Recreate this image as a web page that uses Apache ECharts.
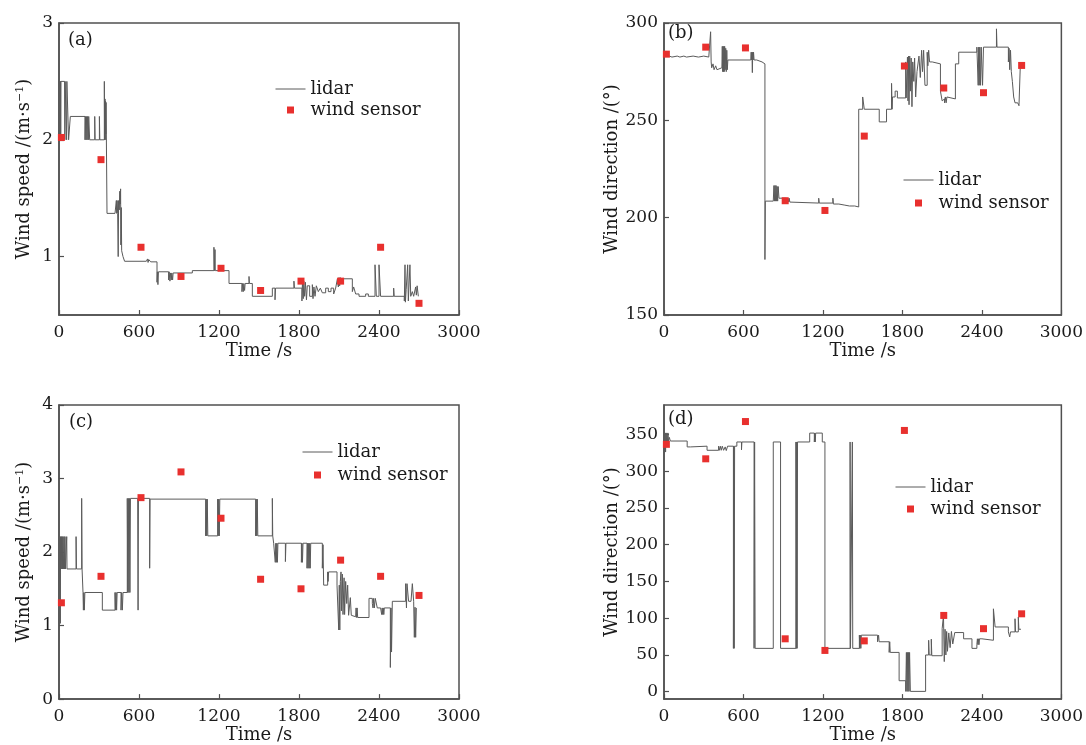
<!DOCTYPE html>
<html><head><meta charset="utf-8">
<script src="https://cdn.jsdelivr.net/npm/echarts@6/dist/echarts.min.js"></script>
<style>html,body{margin:0;padding:0;background:#fff}#c{width:1086px;height:745px}</style>
</head><body><div id="c"></div>
<script>
// ---------- data ----------
const timeTicks = [0, 600, 1200, 1800, 2400, 3000];
const sensorTimes = [18, 315, 615, 915, 1215, 1512, 1815, 2112, 2412, 2700];
const speedSensorA = [2.02, 1.83, 1.08, 0.83, 0.90, 0.71, 0.79, 0.79, 1.08, 0.60];
const dirSensorB = [284.0, 287.6, 287.2, 208.7, 203.7, 241.9, 277.9, 266.6, 264.2, 278.2];
const speedSensorC = [1.31, 1.67, 2.74, 3.09, 2.46, 1.63, 1.50, 1.89, 1.67, 1.41];
const dirSensorD = [336.5, 316.8, 367.5, 72.0, 56.2, 69.2, 355.4, 103.8, 85.8, 106.0];

const yTicksA = [1, 2, 3];
const yTicksB = [150, 200, 250, 300];
const yTicksC = [0, 1, 2, 3, 4];
const yTicksD = [0, 50, 100, 150, 200, 250, 300, 350];

const lidarA = [[0,2.0],[3,2.5],[5,2.0],[7,2.5],[9,2.0],[11,2.5],[13,2.0],[15,2.5],[42,2.5],[44,2.0],[46,2.5],[55,2.5],[57,2.0],[59,2.5],[72,2.0],[85,2.2],[195,2.0],[198,2.2],[203,2.0],[206,2.2],[211,2.0],[214,2.2],[220,2.0],[223,2.2],[230,2.0],[268,2.2],[271,2.0],[303,2.2],[306,2.0],[340,2.5],[342,2.0],[345,2.35],[347,2.0],[349,2.33],[351,2.05],[353,2.32],[360,1.37],[420,1.36],[430,1.48],[433,1.37],[436,1.48],[440,1.37],[444,1.0],[447,1.48],[452,1.4],[456,1.56],[459,1.45],[462,1.58],[464,1.1],[467,1.42],[470,1.05],[480,1.0],[492,0.96],[655,0.975],[660,0.95],[664,0.98],[668,0.95],[673,0.975],[688,0.955],[735,0.78],[738,0.87],[742,0.76],[746,0.87],[822,0.8],[826,0.87],[832,0.79],[836,0.86],[842,0.8],[846,0.86],[852,0.8],[856,0.86],[900,0.86],[1000,0.88],[1162,1.08],[1166,0.88],[1170,1.06],[1172,0.88],[1275,0.77],[1372,0.70],[1376,0.77],[1382,0.70],[1386,0.77],[1392,0.71],[1396,0.77],[1425,0.83],[1428,0.77],[1450,0.66],[1600,0.73],[1620,0.63],[1624,0.73],[1762,0.79],[1766,0.73],[1822,0.62],[1826,0.78],[1832,0.64],[1836,0.79],[1842,0.66],[1848,0.78],[1856,0.63],[1862,0.75],[1880,0.66],[1900,0.76],[1905,0.64],[1912,0.74],[1920,0.66],[1930,0.75],[1945,0.70],[1960,0.73],[1975,0.69],[2000,0.73],[2020,0.70],[2040,0.73],[2060,0.68],[2075,0.73],[2088,0.81],[2095,0.74],[2100,0.82],[2105,0.75],[2110,0.82],[2118,0.77],[2125,0.81],[2200,0.70],[2210,0.74],[2225,0.68],[2250,0.66],[2300,0.68],[2320,0.66],[2370,0.93],[2380,0.66],[2400,0.93],[2412,0.66],[2510,0.73],[2514,0.66],[2590,0.62],[2595,0.93],[2598,0.61],[2604,0.72],[2615,0.93],[2620,0.62],[2632,0.93],[2638,0.66],[2650,0.70],[2660,0.66],[2675,0.74],[2680,0.67],[2686,0.75],[2695,0.66]];

const lidarB = [[0,278],[5,285],[12,283],[40,282.5],[60,283],[100,282.5],[120,283],[150,282.5],[170,283],[220,282.5],[260,283],[300,282.5],[338,282],[352,295.5],[356,280],[360,277],[370,279],[378,276],[390,278],[400,276],[412,277],[437,276],[440,288],[443,275],[446,288],[449,275],[452,288],[455,275],[458,288],[462,276],[466,287],[470,275],[474,286],[478,276],[482,281],[655,281],[658,285],[661,281],[664,285],[667,274.5],[670,285],[673,281],[676,285],[680,281],[700,280],[740,279.5],[755,279],[762,178.5],[765,208.5],[825,208.5],[830,216.5],[834,208.5],[838,216.5],[842,208.5],[846,216.5],[850,208.5],[854,216],[858,208.5],[862,216],[868,210],[925,210],[930,208],[935,210],[940,208],[945,210],[950,208],[962,207.5],[1168,210],[1172,207.5],[1275,210],[1279,207],[1320,206.5],[1360,206],[1400,206],[1440,205.5],[1470,255.7],[1500,262],[1512,255.7],[1625,249.2],[1680,255.7],[1718,269],[1722,255.7],[1725,262],[1745,265],[1762,261.5],[1825,280],[1828,261.5],[1838,282.5],[1842,260],[1846,283],[1850,258],[1855,283],[1860,265],[1866,282],[1872,257],[1878,280],[1886,270],[1892,282],[1900,262],[1910,275],[1925,283],[1935,272],[1945,286],[1952,275],[1960,286],[1970,268],[1987,285],[1992,278],[1998,286],[2005,280],[2025,279],[2087,265],[2100,260],[2112,261],[2118,259],[2124,262],[2130,259],[2136,262],[2145,261],[2200,279],[2225,285],[2362,287.6],[2372,268],[2376,287.6],[2380,268],[2384,287.6],[2390,268],[2395,287.6],[2405,268],[2412,287.6],[2510,297],[2514,287.6],[2600,280],[2605,287],[2610,276],[2616,286],[2622,275],[2630,270],[2640,262],[2650,259],[2670,258],[2680,257.5],[2690,278.2],[2695,278.2]];

const lidarC = [[0,1.03],[5,2.21],[8,1.77],[10,1.03],[12,2.21],[15,1.77],[18,2.21],[21,1.77],[24,2.21],[27,1.77],[30,2.21],[33,1.77],[38,2.21],[42,1.77],[45,2.21],[48,1.77],[58,2.21],[60,1.77],[128,2.21],[131,1.77],[170,2.73],[173,1.77],[180,1.45],[183,1.21],[186,1.45],[190,1.21],[194,1.45],[325,1.21],[420,1.45],[424,1.21],[428,1.45],[432,1.21],[436,1.45],[465,1.21],[470,1.45],[475,1.21],[480,1.45],[512,2.73],[516,1.45],[520,2.73],[524,1.45],[528,2.73],[532,1.45],[536,2.73],[590,2.73],[593,1.21],[596,2.73],[680,1.78],[683,2.72],[1100,2.22],[1104,2.72],[1108,2.22],[1112,2.72],[1116,2.22],[1190,2.72],[1194,2.22],[1198,2.72],[1202,2.22],[1206,2.72],[1475,2.22],[1479,2.72],[1483,2.22],[1487,2.72],[1491,2.22],[1600,2.73],[1603,2.22],[1610,2.12],[1622,1.86],[1626,2.12],[1630,1.86],[1634,2.12],[1638,1.86],[1642,2.12],[1698,1.87],[1702,2.12],[1818,1.86],[1822,2.12],[1826,1.86],[1830,2.12],[1860,1.78],[1864,2.12],[1868,1.78],[1872,2.12],[1876,1.78],[1880,2.12],[1884,1.78],[1888,2.12],[1975,1.78],[1980,2.10],[1985,1.55],[2015,1.73],[2018,1.60],[2022,1.73],[2085,1.55],[2098,0.94],[2102,1.55],[2106,0.94],[2110,1.60],[2115,1.73],[2118,1.20],[2125,1.70],[2130,1.15],[2138,1.65],[2142,1.15],[2150,1.60],[2158,1.30],[2165,1.55],[2172,1.14],[2185,1.38],[2192,1.14],[2200,1.12],[2225,1.11],[2228,1.24],[2232,1.11],[2236,1.24],[2240,1.11],[2325,1.37],[2350,1.30],[2355,1.24],[2360,1.37],[2365,1.24],[2372,1.37],[2387,1.24],[2412,1.22],[2416,1.24],[2420,1.15],[2424,1.24],[2428,1.15],[2432,1.24],[2436,1.15],[2440,1.24],[2485,0.43],[2490,1.24],[2494,0.64],[2500,1.33],[2600,1.57],[2606,1.24],[2610,1.57],[2622,1.33],[2640,1.33],[2650,1.57],[2660,1.33],[2665,0.84],[2670,1.25],[2675,0.84],[2680,1.24]];

const lidarD = [[0,325],[3,352],[6,330],[9,352],[12,326],[15,352],[18,341],[22,352],[26,341],[30,352],[34,341],[40,346],[48,341],[175,333],[200,334],[325,328.4],[412,334],[418,328.4],[425,334],[432,328.4],[440,334],[450,328.4],[462,333],[470,328],[480,334],[524,59],[527,334],[530,59],[533,334],[550,339.7],[585,329],[588,339.7],[680,59],[684,339.7],[688,59],[825,339.7],[880,59],[996,339.7],[999,59],[1002,339.7],[1005,59],[1008,339.7],[1100,351.8],[1135,339.7],[1138,351.8],[1142,339.7],[1145,351.8],[1195,339.7],[1215,59],[1405,339.7],[1408,59],[1422,339.7],[1425,59],[1475,77],[1478,59],[1482,77],[1486,59],[1490,77],[1612,68],[1620,77],[1624,68],[1700,53.5],[1704,68],[1708,53.5],[1775,15],[1825,0.5],[1830,53.5],[1834,0.5],[1838,53.5],[1842,0.5],[1846,53.5],[1850,0.5],[1854,53.5],[1860,0.5],[1975,50],[1998,70],[2002,50],[2018,71.5],[2022,49],[2100,85.8],[2110,103.8],[2116,41],[2122,85],[2128,50],[2134,82],[2140,55],[2150,80],[2160,60],[2170,82],[2180,65],[2195,80.5],[2262,72],[2325,59],[2362,64.3],[2366,72],[2370,64],[2374,72],[2378,64],[2382,72],[2400,71.5],[2412,70],[2487,112.8],[2500,88.1],[2600,81.4],[2610,74.6],[2616,81.4],[2650,99.3],[2654,81.4],[2675,101.6],[2679,85],[2695,85]];

// ---------- chart ----------
const FONT = 'DejaVu Serif';
const TXT = '#1a1a1a';
const FRAME = '#505050';
const RED = '#e8302e';
const LINE = '#5a5a5a';

const grids = [
  {left: 59, top: 23, width: 400, height: 292},
  {left: 664, top: 23, width: 399, height: 292},
  {left: 59, top: 405, width: 400, height: 299},
  {left: 664, top: 405, width: 399, height: 299}
];
const yCfg = [
  {min: 0.5, max: 3, ticks: yTicksA, name: 'Wind speed /(m·s{sup|−1})'},
  {min: 150, max: 300, ticks: yTicksB, name: 'Wind direction /(°)'},
  {min: 0, max: 4, ticks: yTicksC, name: 'Wind speed /(m·s{sup|−1})'},
  {min: -10, max: 390, ticks: yTicksD, name: 'Wind direction /(°)'}
];
const sensors = [speedSensorA, dirSensorB, speedSensorC, dirSensorD];
const lidars = [lidarA, lidarB, lidarC, lidarD];
const plain = v => String(v);

const xAxes = grids.map((g, i) => ({
  type: 'value', gridIndex: i, min: 0, max: 3000,
  axisLabel: {customValues: timeTicks, formatter: plain, fontFamily: FONT, fontSize: 17, color: TXT, margin: 9},
  axisTick: {customValues: timeTicks, inside: true, length: 5, lineStyle: {color: FRAME, width: 1.2}},
  axisLine: {onZero: false, lineStyle: {color: FRAME, width: 1.5}},
  splitLine: {show: false},
  name: 'Time /s', nameLocation: 'middle', nameGap: 26,
  nameTextStyle: {fontFamily: FONT, fontSize: 18, color: TXT}
}));
const yAxes = yCfg.map((c, i) => ({
  type: 'value', gridIndex: i, min: c.min, max: c.max,
  axisLabel: {customValues: c.ticks, formatter: plain, fontFamily: FONT, fontSize: 17, color: TXT, margin: 6},
  axisTick: {customValues: c.ticks, inside: true, length: 5, lineStyle: {color: FRAME, width: 1.2}},
  axisLine: {show: true, onZero: false, lineStyle: {color: FRAME, width: 1.5}},
  splitLine: {show: false},
  name: c.name, nameLocation: 'middle', nameGap: 26, nameRotate: 90,
  nameTextStyle: {fontFamily: FONT, fontSize: 18, color: TXT,
    rich: {sup: {fontFamily: FONT, fontSize: 11, color: TXT, verticalAlign: 'top'}}}
}));

const series = [];
lidars.forEach((d, i) => {
  series.push({
    name: 'lidar', type: 'line', step: 'end', xAxisIndex: i, yAxisIndex: i,
    data: d, symbol: 'none', lineStyle: {color: LINE, width: 1}, itemStyle: {color: LINE},
    animation: false, z: 2
  });
});
sensors.forEach((v, i) => {
  series.push({
    name: 'wind sensor', type: 'scatter', xAxisIndex: i, yAxisIndex: i,
    data: sensorTimes.map((t, k) => [t, v[k]]), symbol: 'rect', symbolSize: 7,
    itemStyle: {color: RED, opacity: 1}, animation: false, z: 3
  });
});

const legendPos = [
  {left: 275, top: 79, gap: 1},
  {left: 903, top: 170, gap: 3},
  {left: 302, top: 442, gap: 3},
  {left: 895, top: 477, gap: 2}
];
const SQ = 'path://M0,0L10,0L10,10L0,10Z';
const legends = legendPos.map(p => ({
  orient: 'vertical', left: p.left, top: p.top, itemGap: p.gap, padding: 0,
  itemWidth: 30, itemHeight: 7, selectedMode: false, symbolKeepAspect: true,
  data: [
    {name: 'lidar', itemStyle: {opacity: 0}, lineStyle: {color: LINE, width: 1}},
    {name: 'wind sensor', icon: SQ, itemStyle: {color: RED, opacity: 1}}
  ],
  textStyle: {fontFamily: FONT, fontSize: 18, color: TXT, lineHeight: 20}
}));

const panelLabels = [
  {text: '(a)', left: 68, top: 31},
  {text: '(b)', left: 668, top: 24},
  {text: '(c)', left: 69, top: 413},
  {text: '(d)', left: 668, top: 410}
];
const titles = panelLabels.map(p => ({
  text: p.text, left: p.left, top: p.top, padding: 0,
  textStyle: {fontFamily: FONT, fontSize: 18, fontWeight: 'normal', color: TXT}
}));

const chart = echarts.init(document.getElementById('c'), null, {renderer: 'canvas'});
chart.setOption({
  backgroundColor: '#ffffff',
  animation: false,
  title: titles,
  legend: legends,
  grid: grids.map(g => Object.assign({show: true, borderColor: FRAME, borderWidth: 1.5, backgroundColor: 'transparent'}, g)),
  xAxis: xAxes,
  yAxis: yAxes,
  series: series
});
</script>
</body></html>
